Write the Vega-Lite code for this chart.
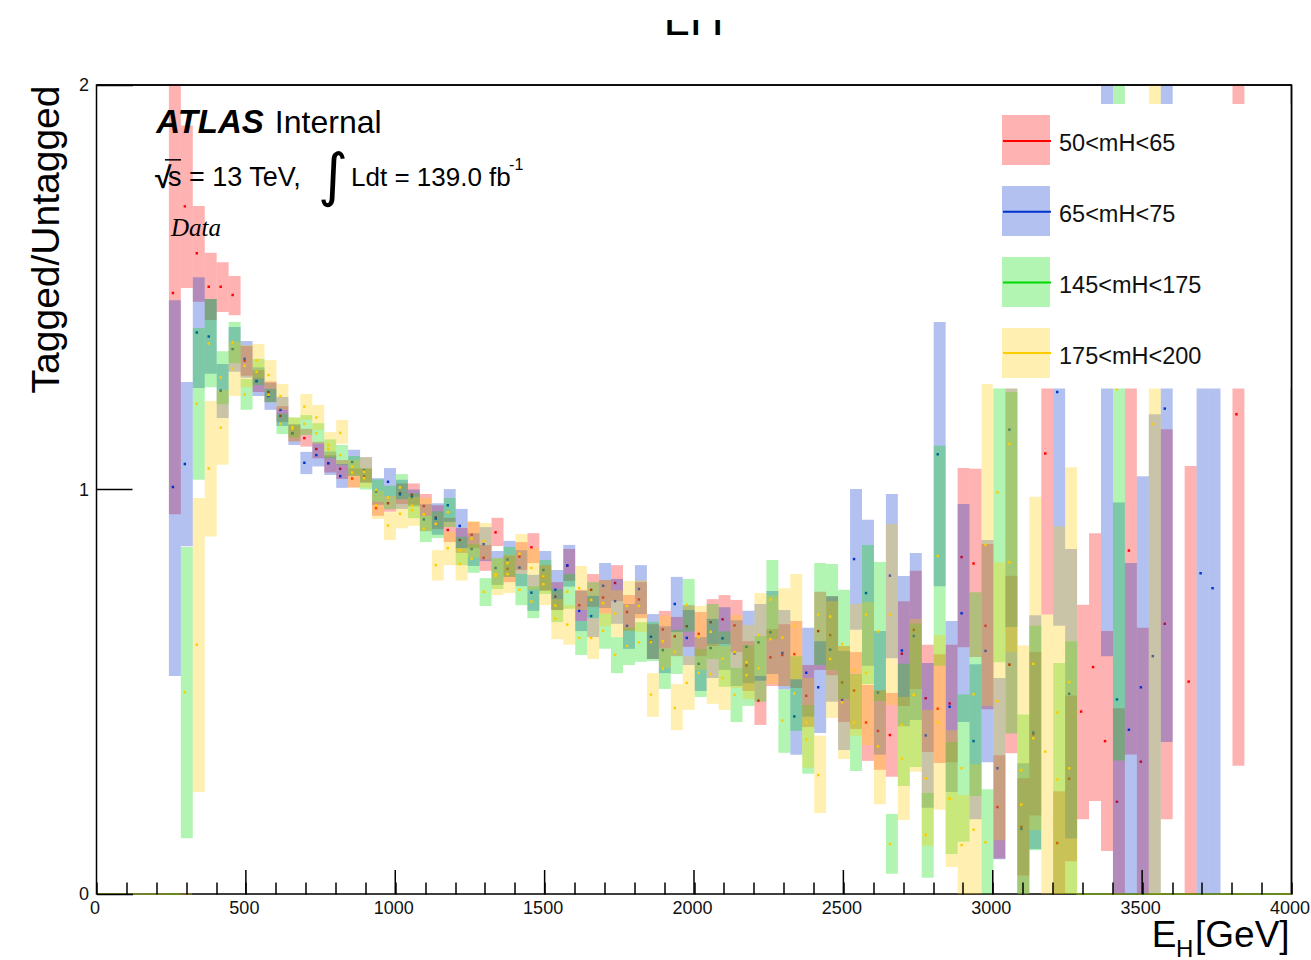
{"$schema":"https://vega.github.io/schema/vega-lite/v6.json","width":1195,"height":809,"autosize":"none","padding":{"left":96.5,"top":85,"right":19.5,"bottom":66},"background":"white","config":{"view":{"stroke":"black","strokeWidth":1.5},"font":"Liberation Sans"},
"data":{"values":[
{"s":"50<mH<65","x":240,"e":280,"lo":0.939,"m":1.486,"hi":2.03},{"s":"65<mH<75","x":240,"e":280,"lo":0.539,"m":1.006,"hi":1.468},
{"s":"50<mH<65","x":280,"e":320,"lo":1.498,"m":1.7,"hi":1.9},{"s":"65<mH<75","x":280,"e":320,"lo":0.86,"m":1.063,"hi":1.266},{"s":"145<mH<175","x":280,"e":320,"lo":0.138,"m":0.499,"hi":0.858},
{"s":"50<mH<65","x":320,"e":360,"lo":1.464,"m":1.584,"hi":1.701},{"s":"65<mH<75","x":320,"e":360,"lo":1.251,"m":1.388,"hi":1.525},{"s":"145<mH<175","x":320,"e":360,"lo":1.024,"m":1.212,"hi":1.399},{"s":"175<mH<200","x":320,"e":360,"lo":0.252,"m":0.616,"hi":0.979},
{"s":"50<mH<65","x":360,"e":400,"lo":1.419,"m":1.501,"hi":1.585},{"s":"65<mH<75","x":360,"e":400,"lo":1.286,"m":1.378,"hi":1.471},{"s":"145<mH<175","x":360,"e":400,"lo":1.253,"m":1.361,"hi":1.471},{"s":"175<mH<200","x":360,"e":400,"lo":0.884,"m":1.052,"hi":1.219},
{"s":"50<mH<65","x":400,"e":440,"lo":1.439,"m":1.501,"hi":1.562},{"s":"65<mH<75","x":400,"e":440,"lo":1.177,"m":1.244,"hi":1.31},{"s":"145<mH<175","x":400,"e":440,"lo":1.211,"m":1.277,"hi":1.342},{"s":"175<mH<200","x":400,"e":440,"lo":1.061,"m":1.153,"hi":1.246},
{"s":"50<mH<65","x":440,"e":480,"lo":1.431,"m":1.481,"hi":1.528},{"s":"65<mH<75","x":440,"e":480,"lo":1.291,"m":1.347,"hi":1.402},{"s":"145<mH<175","x":440,"e":480,"lo":1.312,"m":1.364,"hi":1.414},{"s":"175<mH<200","x":440,"e":480,"lo":1.231,"m":1.299,"hi":1.365},
{"s":"50<mH<65","x":480,"e":520,"lo":1.281,"m":1.318,"hi":1.355},{"s":"65<mH<75","x":480,"e":520,"lo":1.276,"m":1.323,"hi":1.367},{"s":"145<mH<175","x":480,"e":520,"lo":1.197,"m":1.235,"hi":1.273},{"s":"175<mH<200","x":480,"e":520,"lo":1.253,"m":1.306,"hi":1.357},
{"s":"50<mH<65","x":520,"e":560,"lo":1.241,"m":1.268,"hi":1.295},{"s":"65<mH<75","x":520,"e":560,"lo":1.231,"m":1.268,"hi":1.302},{"s":"145<mH<175","x":520,"e":560,"lo":1.258,"m":1.291,"hi":1.323},{"s":"175<mH<200","x":520,"e":560,"lo":1.275,"m":1.319,"hi":1.36},
{"s":"50<mH<65","x":560,"e":600,"lo":1.216,"m":1.241,"hi":1.267},{"s":"65<mH<75","x":560,"e":600,"lo":1.197,"m":1.231,"hi":1.264},{"s":"145<mH<175","x":560,"e":600,"lo":1.216,"m":1.234,"hi":1.249},{"s":"175<mH<200","x":560,"e":600,"lo":1.249,"m":1.283,"hi":1.32},
{"s":"50<mH<65","x":600,"e":640,"lo":1.167,"m":1.182,"hi":1.206},{"s":"65<mH<75","x":600,"e":640,"lo":1.157,"m":1.197,"hi":1.229},{"s":"145<mH<175","x":600,"e":640,"lo":1.137,"m":1.162,"hi":1.187},{"s":"175<mH<200","x":600,"e":640,"lo":1.197,"m":1.231,"hi":1.261},
{"s":"50<mH<65","x":640,"e":680,"lo":1.119,"m":1.139,"hi":1.159},{"s":"65<mH<75","x":640,"e":680,"lo":1.11,"m":1.139,"hi":1.162},{"s":"145<mH<175","x":640,"e":680,"lo":1.129,"m":1.154,"hi":1.178},{"s":"175<mH<200","x":640,"e":680,"lo":1.119,"m":1.151,"hi":1.178},
{"s":"50<mH<65","x":680,"e":720,"lo":1.106,"m":1.127,"hi":1.15},{"s":"65<mH<75","x":680,"e":720,"lo":1.038,"m":1.066,"hi":1.093},{"s":"145<mH<175","x":680,"e":720,"lo":1.135,"m":1.162,"hi":1.184},{"s":"175<mH<200","x":680,"e":720,"lo":1.173,"m":1.205,"hi":1.236},
{"s":"50<mH<65","x":720,"e":760,"lo":1.077,"m":1.1,"hi":1.118},{"s":"65<mH<75","x":720,"e":760,"lo":1.057,"m":1.085,"hi":1.114},{"s":"145<mH<175","x":720,"e":760,"lo":1.114,"m":1.139,"hi":1.164},{"s":"175<mH<200","x":720,"e":760,"lo":1.147,"m":1.178,"hi":1.209},
{"s":"50<mH<65","x":760,"e":800,"lo":1.042,"m":1.065,"hi":1.085},{"s":"65<mH<75","x":760,"e":800,"lo":1.036,"m":1.065,"hi":1.094},{"s":"145<mH<175","x":760,"e":800,"lo":1.077,"m":1.1,"hi":1.124},{"s":"175<mH<200","x":760,"e":800,"lo":1.081,"m":1.11,"hi":1.142},
{"s":"50<mH<65","x":800,"e":840,"lo":1.026,"m":1.051,"hi":1.073},{"s":"65<mH<75","x":800,"e":840,"lo":1.004,"m":1.033,"hi":1.063},{"s":"145<mH<175","x":800,"e":840,"lo":1.061,"m":1.085,"hi":1.11},{"s":"175<mH<200","x":800,"e":840,"lo":1.113,"m":1.14,"hi":1.172},
{"s":"50<mH<65","x":840,"e":880,"lo":1.005,"m":1.027,"hi":1.052},{"s":"65<mH<75","x":840,"e":880,"lo":1.034,"m":1.068,"hi":1.098},{"s":"145<mH<175","x":840,"e":880,"lo":1.034,"m":1.056,"hi":1.083},{"s":"175<mH<200","x":840,"e":880,"lo":1.005,"m":1.042,"hi":1.073},
{"s":"50<mH<65","x":880,"e":920,"lo":1.017,"m":1.033,"hi":1.052},{"s":"65<mH<75","x":880,"e":920,"lo":1.017,"m":1.048,"hi":1.08},{"s":"145<mH<175","x":880,"e":920,"lo":1.0,"m":1.028,"hi":1.052},{"s":"175<mH<200","x":880,"e":920,"lo":1.005,"m":1.044,"hi":1.08},
{"s":"50<mH<65","x":920,"e":960,"lo":0.935,"m":0.954,"hi":0.97},{"s":"65<mH<75","x":920,"e":960,"lo":0.962,"m":0.995,"hi":1.028},{"s":"145<mH<175","x":920,"e":960,"lo":0.97,"m":0.999,"hi":1.025},{"s":"175<mH<200","x":920,"e":960,"lo":0.927,"m":0.961,"hi":0.997},
{"s":"50<mH<65","x":960,"e":1000,"lo":0.945,"m":0.966,"hi":0.984},{"s":"65<mH<75","x":960,"e":1000,"lo":0.984,"m":1.019,"hi":1.053},{"s":"145<mH<175","x":960,"e":1000,"lo":0.951,"m":0.98,"hi":1.009},{"s":"175<mH<200","x":960,"e":1000,"lo":0.875,"m":0.911,"hi":0.944},
{"s":"50<mH<65","x":1000,"e":1040,"lo":0.964,"m":0.991,"hi":1.015},{"s":"65<mH<75","x":1000,"e":1040,"lo":0.952,"m":0.988,"hi":1.024},{"s":"145<mH<175","x":1000,"e":1040,"lo":0.976,"m":1.005,"hi":1.038},{"s":"175<mH<200","x":1000,"e":1040,"lo":0.904,"m":0.94,"hi":0.976},
{"s":"50<mH<65","x":1040,"e":1080,"lo":0.962,"m":0.987,"hi":1.015},{"s":"65<mH<75","x":1040,"e":1080,"lo":0.958,"m":0.981,"hi":1.0},{"s":"145<mH<175","x":1040,"e":1080,"lo":0.929,"m":0.96,"hi":0.991},{"s":"175<mH<200","x":1040,"e":1080,"lo":0.91,"m":0.949,"hi":0.982},
{"s":"50<mH<65","x":1080,"e":1120,"lo":0.935,"m":0.959,"hi":0.989},{"s":"65<mH<75","x":1080,"e":1120,"lo":0.897,"m":0.926,"hi":0.964},{"s":"145<mH<175","x":1080,"e":1120,"lo":0.87,"m":0.903,"hi":0.935},{"s":"175<mH<200","x":1080,"e":1120,"lo":0.897,"m":0.939,"hi":0.979},
{"s":"50<mH<65","x":1120,"e":1160,"lo":0.902,"m":0.931,"hi":0.961},{"s":"65<mH<75","x":1120,"e":1160,"lo":0.888,"m":0.928,"hi":0.966},{"s":"145<mH<175","x":1120,"e":1160,"lo":0.88,"m":0.915,"hi":0.946},{"s":"175<mH<200","x":1120,"e":1160,"lo":0.775,"m":0.813,"hi":0.85},
{"s":"50<mH<65","x":1160,"e":1200,"lo":0.87,"m":0.9,"hi":0.93},{"s":"65<mH<75","x":1160,"e":1200,"lo":0.92,"m":0.961,"hi":1.001},{"s":"145<mH<175","x":1160,"e":1200,"lo":0.907,"m":0.944,"hi":0.979},{"s":"175<mH<200","x":1160,"e":1200,"lo":0.813,"m":0.855,"hi":0.895},
{"s":"50<mH<65","x":1200,"e":1240,"lo":0.843,"m":0.875,"hi":0.905},{"s":"65<mH<75","x":1200,"e":1240,"lo":0.855,"m":0.91,"hi":0.952},{"s":"145<mH<175","x":1200,"e":1240,"lo":0.813,"m":0.85,"hi":0.883},{"s":"175<mH<200","x":1200,"e":1240,"lo":0.775,"m":0.816,"hi":0.855},
{"s":"50<mH<65","x":1240,"e":1280,"lo":0.855,"m":0.888,"hi":0.92},{"s":"65<mH<75","x":1240,"e":1280,"lo":0.811,"m":0.853,"hi":0.892},{"s":"145<mH<175","x":1240,"e":1280,"lo":0.794,"m":0.829,"hi":0.865},{"s":"175<mH<200","x":1240,"e":1280,"lo":0.832,"m":0.879,"hi":0.922},
{"s":"50<mH<65","x":1280,"e":1320,"lo":0.799,"m":0.831,"hi":0.863},{"s":"65<mH<75","x":1280,"e":1320,"lo":0.823,"m":0.865,"hi":0.907},{"s":"145<mH<175","x":1280,"e":1320,"lo":0.712,"m":0.747,"hi":0.781},{"s":"175<mH<200","x":1280,"e":1320,"lo":0.827,"m":0.872,"hi":0.917},
{"s":"50<mH<65","x":1320,"e":1360,"lo":0.86,"m":0.894,"hi":0.93},{"s":"65<mH<75","x":1320,"e":1360,"lo":0.764,"m":0.806,"hi":0.848},{"s":"145<mH<175","x":1320,"e":1360,"lo":0.754,"m":0.791,"hi":0.83},{"s":"175<mH<200","x":1320,"e":1360,"lo":0.739,"m":0.786,"hi":0.83},
{"s":"50<mH<65","x":1360,"e":1400,"lo":0.771,"m":0.804,"hi":0.837},{"s":"65<mH<75","x":1360,"e":1400,"lo":0.784,"m":0.827,"hi":0.873},{"s":"145<mH<175","x":1360,"e":1400,"lo":0.784,"m":0.818,"hi":0.858},{"s":"175<mH<200","x":1360,"e":1400,"lo":0.744,"m":0.791,"hi":0.838},
{"s":"50<mH<65","x":1400,"e":1440,"lo":0.801,"m":0.834,"hi":0.87},{"s":"65<mH<75","x":1400,"e":1440,"lo":0.761,"m":0.807,"hi":0.85},{"s":"145<mH<175","x":1400,"e":1440,"lo":0.714,"m":0.752,"hi":0.791},{"s":"175<mH<200","x":1400,"e":1440,"lo":0.791,"m":0.841,"hi":0.89},
{"s":"50<mH<65","x":1440,"e":1480,"lo":0.818,"m":0.857,"hi":0.892},{"s":"65<mH<75","x":1440,"e":1480,"lo":0.7,"m":0.745,"hi":0.789},{"s":"145<mH<175","x":1440,"e":1480,"lo":0.682,"m":0.723,"hi":0.761},{"s":"175<mH<200","x":1440,"e":1480,"lo":0.753,"m":0.806,"hi":0.855},
{"s":"50<mH<65","x":1480,"e":1520,"lo":0.75,"m":0.784,"hi":0.813},{"s":"65<mH<75","x":1480,"e":1520,"lo":0.75,"m":0.801,"hi":0.848},{"s":"145<mH<175","x":1480,"e":1520,"lo":0.742,"m":0.785,"hi":0.826},{"s":"175<mH<200","x":1480,"e":1520,"lo":0.714,"m":0.766,"hi":0.813},
{"s":"50<mH<65","x":1520,"e":1560,"lo":0.702,"m":0.735,"hi":0.771},{"s":"65<mH<75","x":1520,"e":1560,"lo":0.702,"m":0.752,"hi":0.801},{"s":"145<mH<175","x":1520,"e":1560,"lo":0.672,"m":0.713,"hi":0.753},{"s":"175<mH<200","x":1520,"e":1560,"lo":0.63,"m":0.681,"hi":0.729},
{"s":"50<mH<65","x":1560,"e":1600,"lo":0.774,"m":0.812,"hi":0.853},{"s":"65<mH<75","x":1560,"e":1600,"lo":0.76,"m":0.812,"hi":0.863},{"s":"145<mH<175","x":1560,"e":1600,"lo":0.705,"m":0.747,"hi":0.791},{"s":"175<mH<200","x":1560,"e":1600,"lo":0.616,"m":0.666,"hi":0.714},
{"s":"50<mH<65","x":1600,"e":1640,"lo":0.675,"m":0.714,"hi":0.751},{"s":"65<mH<75","x":1600,"e":1640,"lo":0.65,"m":0.7,"hi":0.75},{"s":"145<mH<175","x":1600,"e":1640,"lo":0.591,"m":0.633,"hi":0.675},{"s":"175<mH<200","x":1600,"e":1640,"lo":0.702,"m":0.756,"hi":0.811},
{"s":"50<mH<65","x":1640,"e":1680,"lo":0.71,"m":0.752,"hi":0.791},{"s":"65<mH<75","x":1640,"e":1680,"lo":0.635,"m":0.687,"hi":0.737},{"s":"145<mH<175","x":1640,"e":1680,"lo":0.682,"m":0.727,"hi":0.771},{"s":"175<mH<200","x":1640,"e":1680,"lo":0.581,"m":0.633,"hi":0.682},
{"s":"50<mH<65","x":1680,"e":1720,"lo":0.693,"m":0.733,"hi":0.776},{"s":"65<mH<75","x":1680,"e":1720,"lo":0.707,"m":0.762,"hi":0.818},{"s":"145<mH<175","x":1680,"e":1720,"lo":0.606,"m":0.651,"hi":0.693},{"s":"175<mH<200","x":1680,"e":1720,"lo":0.662,"m":0.719,"hi":0.776},
{"s":"50<mH<65","x":1720,"e":1760,"lo":0.724,"m":0.769,"hi":0.813},{"s":"65<mH<75","x":1720,"e":1760,"lo":0.668,"m":0.724,"hi":0.779},{"s":"145<mH<175","x":1720,"e":1760,"lo":0.546,"m":0.591,"hi":0.635},{"s":"175<mH<200","x":1720,"e":1760,"lo":0.635,"m":0.693,"hi":0.751},
{"s":"50<mH<65","x":1760,"e":1800,"lo":0.651,"m":0.697,"hi":0.739},{"s":"65<mH<75","x":1760,"e":1800,"lo":0.606,"m":0.663,"hi":0.717},{"s":"145<mH<175","x":1760,"e":1800,"lo":0.566,"m":0.613,"hi":0.659},{"s":"175<mH<200","x":1760,"e":1800,"lo":0.651,"m":0.712,"hi":0.774},
{"s":"50<mH<65","x":1800,"e":1840,"lo":0.682,"m":0.728,"hi":0.771},{"s":"65<mH<75","x":1800,"e":1840,"lo":0.692,"m":0.754,"hi":0.813},{"s":"145<mH<175","x":1800,"e":1840,"lo":0.574,"m":0.622,"hi":0.672},{"s":"175<mH<200","x":1800,"e":1840,"lo":0.648,"m":0.712,"hi":0.776},
{"s":"50<mH<65","x":1840,"e":1880,"lo":0.581,"m":0.624,"hi":0.667},{"s":"65<mH<75","x":1840,"e":1880,"lo":0.581,"m":0.636,"hi":0.692},{"s":"145<mH<175","x":1840,"e":1880,"lo":0.576,"m":0.623,"hi":0.673},{"s":"175<mH<200","x":1840,"e":1880,"lo":0.438,"m":0.493,"hi":0.546},
{"s":"50<mH<65","x":1880,"e":1920,"lo":0.607,"m":0.654,"hi":0.7},{"s":"65<mH<75","x":1880,"e":1920,"lo":0.546,"m":0.603,"hi":0.662},{"s":"145<mH<175","x":1880,"e":1920,"lo":0.507,"m":0.557,"hi":0.607},{"s":"175<mH<200","x":1880,"e":1920,"lo":0.559,"m":0.625,"hi":0.689},
{"s":"50<mH<65","x":1920,"e":1960,"lo":0.588,"m":0.637,"hi":0.685},{"s":"65<mH<75","x":1920,"e":1960,"lo":0.648,"m":0.717,"hi":0.784},{"s":"145<mH<175","x":1920,"e":1960,"lo":0.544,"m":0.599,"hi":0.653},{"s":"175<mH<200","x":1920,"e":1960,"lo":0.405,"m":0.46,"hi":0.519},
{"s":"50<mH<65","x":1960,"e":2000,"lo":0.611,"m":0.662,"hi":0.714},{"s":"65<mH<75","x":1960,"e":2000,"lo":0.566,"m":0.633,"hi":0.702},{"s":"145<mH<175","x":1960,"e":2000,"lo":0.649,"m":0.715,"hi":0.779},{"s":"175<mH<200","x":1960,"e":2000,"lo":0.455,"m":0.522,"hi":0.588},
{"s":"50<mH<65","x":2000,"e":2040,"lo":0.588,"m":0.643,"hi":0.697},{"s":"65<mH<75","x":2000,"e":2040,"lo":0.502,"m":0.569,"hi":0.635},{"s":"145<mH<175","x":2000,"e":2040,"lo":0.487,"m":0.547,"hi":0.606},{"s":"175<mH<200","x":2000,"e":2040,"lo":0.554,"m":0.635,"hi":0.712},
{"s":"50<mH<65","x":2040,"e":2080,"lo":0.613,"m":0.672,"hi":0.729},{"s":"65<mH<75","x":2040,"e":2080,"lo":0.534,"m":0.608,"hi":0.68},{"s":"145<mH<175","x":2040,"e":2080,"lo":0.581,"m":0.648,"hi":0.717},{"s":"175<mH<200","x":2040,"e":2080,"lo":0.47,"m":0.544,"hi":0.618},
{"s":"50<mH<65","x":2080,"e":2120,"lo":0.618,"m":0.679,"hi":0.739},{"s":"65<mH<75","x":2080,"e":2120,"lo":0.554,"m":0.632,"hi":0.709},{"s":"145<mH<175","x":2080,"e":2120,"lo":0.512,"m":0.582,"hi":0.649},{"s":"175<mH<200","x":2080,"e":2120,"lo":0.455,"m":0.534,"hi":0.613},
{"s":"50<mH<65","x":2120,"e":2160,"lo":0.598,"m":0.664,"hi":0.727},{"s":"65<mH<75","x":2120,"e":2160,"lo":0.514,"m":0.595,"hi":0.677},{"s":"145<mH<175","x":2120,"e":2160,"lo":0.425,"m":0.492,"hi":0.559},{"s":"175<mH<200","x":2120,"e":2160,"lo":0.509,"m":0.598,"hi":0.69},
{"s":"50<mH<65","x":2160,"e":2200,"lo":0.502,"m":0.565,"hi":0.625},{"s":"65<mH<75","x":2160,"e":2200,"lo":0.521,"m":0.611,"hi":0.7},{"s":"145<mH<175","x":2160,"e":2200,"lo":0.465,"m":0.541,"hi":0.615},{"s":"175<mH<200","x":2160,"e":2200,"lo":0.482,"m":0.573,"hi":0.665},
{"s":"50<mH<65","x":2200,"e":2240,"lo":0.418,"m":0.478,"hi":0.539},{"s":"65<mH<75","x":2200,"e":2240,"lo":0.527,"m":0.622,"hi":0.717},{"s":"145<mH<175","x":2200,"e":2240,"lo":0.475,"m":0.558,"hi":0.638},{"s":"175<mH<200","x":2200,"e":2240,"lo":0.539,"m":0.64,"hi":0.744},
{"s":"50<mH<65","x":2240,"e":2280,"lo":0.514,"m":0.585,"hi":0.655},{"s":"65<mH<75","x":2240,"e":2280,"lo":0.544,"m":0.647,"hi":0.749},{"s":"145<mH<175","x":2240,"e":2280,"lo":0.63,"m":0.728,"hi":0.826},{"s":"175<mH<200","x":2240,"e":2280,"lo":0.519,"m":0.63,"hi":0.738},
{"s":"50<mH<65","x":2280,"e":2320,"lo":0.514,"m":0.591,"hi":0.667},{"s":"65<mH<75","x":2280,"e":2320,"lo":0.506,"m":0.596,"hi":0.702},{"s":"145<mH<175","x":2280,"e":2320,"lo":0.349,"m":0.429,"hi":0.506},{"s":"175<mH<200","x":2280,"e":2320,"lo":0.514,"m":0.634,"hi":0.756},
{"s":"50<mH<65","x":2320,"e":2360,"lo":0.509,"m":0.593,"hi":0.675},{"s":"65<mH<75","x":2320,"e":2360,"lo":0.344,"m":0.439,"hi":0.531},{"s":"145<mH<175","x":2320,"e":2360,"lo":0.403,"m":0.496,"hi":0.588},{"s":"175<mH<200","x":2320,"e":2360,"lo":0.531,"m":0.662,"hi":0.791},
{"s":"50<mH<65","x":2360,"e":2400,"lo":0.413,"m":0.49,"hi":0.566},{"s":"65<mH<75","x":2360,"e":2400,"lo":0.438,"m":0.547,"hi":0.658},{"s":"145<mH<175","x":2360,"e":2400,"lo":0.297,"m":0.382,"hi":0.467},{"s":"175<mH<200","x":2360,"e":2400,"lo":0.312,"m":0.424,"hi":0.534},
{"s":"50<mH<65","x":2400,"e":2440,"lo":0.554,"m":0.65,"hi":0.747},{"s":"65<mH<75","x":2400,"e":2440,"lo":0.398,"m":0.511,"hi":0.625},{"s":"145<mH<175","x":2400,"e":2440,"lo":0.566,"m":0.691,"hi":0.818},{"s":"175<mH<200","x":2400,"e":2440,"lo":0.2,"m":0.294,"hi":0.391},
{"s":"50<mH<65","x":2440,"e":2480,"lo":0.541,"m":0.64,"hi":0.736},{"s":"65<mH<75","x":2440,"e":2480,"lo":0.475,"m":0.604,"hi":0.736},{"s":"145<mH<175","x":2440,"e":2480,"lo":0.554,"m":0.686,"hi":0.816},{"s":"175<mH<200","x":2440,"e":2480,"lo":0.435,"m":0.581,"hi":0.724},
{"s":"50<mH<65","x":2480,"e":2520,"lo":0.425,"m":0.523,"hi":0.613},{"s":"65<mH<75","x":2480,"e":2520,"lo":0.356,"m":0.48,"hi":0.601},{"s":"145<mH<175","x":2480,"e":2520,"lo":0.482,"m":0.618,"hi":0.752},{"s":"175<mH<200","x":2480,"e":2520,"lo":0.334,"m":0.474,"hi":0.613},
{"s":"50<mH<65","x":2520,"e":2560,"lo":0.408,"m":0.503,"hi":0.598},{"s":"65<mH<75","x":2520,"e":2560,"lo":0.653,"m":0.828,"hi":1.001},{"s":"145<mH<175","x":2520,"e":2560,"lo":0.304,"m":0.424,"hi":0.544},{"s":"175<mH<200","x":2520,"e":2560,"lo":0.391,"m":0.554,"hi":0.717},
{"s":"50<mH<65","x":2560,"e":2600,"lo":0.329,"m":0.424,"hi":0.517},{"s":"65<mH<75","x":2560,"e":2600,"lo":0.564,"m":0.744,"hi":0.925},{"s":"145<mH<175","x":2560,"e":2600,"lo":0.519,"m":0.691,"hi":0.863},{"s":"175<mH<200","x":2560,"e":2600,"lo":0.368,"m":0.547,"hi":0.722},
{"s":"50<mH<65","x":2600,"e":2640,"lo":0.307,"m":0.403,"hi":0.504},{"s":"65<mH<75","x":2600,"e":2640,"lo":0.344,"m":0.498,"hi":0.65},{"s":"145<mH<175","x":2600,"e":2640,"lo":0.477,"m":0.649,"hi":0.821},{"s":"175<mH<200","x":2600,"e":2640,"lo":0.222,"m":0.365,"hi":0.504},
{"s":"50<mH<65","x":2640,"e":2680,"lo":0.29,"m":0.393,"hi":0.497},{"s":"65<mH<75","x":2640,"e":2680,"lo":0.583,"m":0.787,"hi":0.989},{"s":"145<mH<175","x":2640,"e":2680,"lo":0.05,"m":0.124,"hi":0.198},{"s":"175<mH<200","x":2640,"e":2680,"lo":0.467,"m":0.691,"hi":0.915},
{"s":"50<mH<65","x":2680,"e":2720,"lo":0.465,"m":0.594,"hi":0.724},{"s":"65<mH<75","x":2680,"e":2720,"lo":0.415,"m":0.602,"hi":0.786},{"s":"145<mH<175","x":2680,"e":2720,"lo":0.267,"m":0.418,"hi":0.569},{"s":"175<mH<200","x":2680,"e":2720,"lo":0.183,"m":0.335,"hi":0.487},
{"s":"50<mH<65","x":2720,"e":2760,"lo":0.507,"m":0.653,"hi":0.799},{"s":"65<mH<75","x":2720,"e":2760,"lo":0.43,"m":0.638,"hi":0.843},{"s":"145<mH<175","x":2720,"e":2760,"lo":0.314,"m":0.492,"hi":0.669},{"s":"175<mH<200","x":2720,"e":2760,"lo":0.302,"m":0.492,"hi":0.68},
{"s":"50<mH<65","x":2760,"e":2800,"lo":0.351,"m":0.484,"hi":0.616},{"s":"65<mH<75","x":2760,"e":2800,"lo":0.213,"m":0.392,"hi":0.571},{"s":"145<mH<175","x":2760,"e":2800,"lo":0.04,"m":0.146,"hi":0.25},{"s":"175<mH<200","x":2760,"e":2800,"lo":0.119,"m":0.286,"hi":0.455},
{"s":"50<mH<65","x":2800,"e":2840,"lo":0.324,"m":0.458,"hi":0.593},{"s":"65<mH<75","x":2800,"e":2840,"lo":0.761,"m":1.087,"hi":1.414},{"s":"145<mH<175","x":2800,"e":2840,"lo":0.564,"m":0.836,"hi":1.108},{"s":"175<mH<200","x":2800,"e":2840,"lo":0.208,"m":0.424,"hi":0.64},
{"s":"50<mH<65","x":2840,"e":2880,"lo":0.326,"m":0.471,"hi":0.616},{"s":"65<mH<75","x":2840,"e":2880,"lo":0.252,"m":0.463,"hi":0.675},{"s":"145<mH<175","x":2840,"e":2880,"lo":0.099,"m":0.236,"hi":0.376},{"s":"175<mH<200","x":2840,"e":2880,"lo":0.067,"m":0.236,"hi":0.405},
{"s":"50<mH<65","x":2880,"e":2920,"lo":0.61,"m":0.833,"hi":1.053},{"s":"65<mH<75","x":2880,"e":2920,"lo":0.425,"m":0.694,"hi":0.964},{"s":"145<mH<175","x":2880,"e":2920,"lo":0.129,"m":0.311,"hi":0.493},{"s":"175<mH<200","x":2880,"e":2920,"lo":0.0,"m":0.121,"hi":0.245},
{"s":"50<mH<65","x":2920,"e":2960,"lo":0.586,"m":0.817,"hi":1.051},{"s":"65<mH<75","x":2920,"e":2960,"lo":0.185,"m":0.378,"hi":0.568},{"s":"145<mH<175","x":2920,"e":2960,"lo":0.242,"m":0.494,"hi":0.746},{"s":"175<mH<200","x":2920,"e":2960,"lo":0.0,"m":0.159,"hi":0.321},
{"s":"50<mH<65","x":2960,"e":3000,"lo":0.457,"m":0.663,"hi":0.865},{"s":"65<mH<75","x":2960,"e":3000,"lo":0.326,"m":0.601,"hi":0.875},{"s":"145<mH<175","x":2960,"e":3000,"lo":0.0,"m":0.128,"hi":0.259},{"s":"175<mH<200","x":2960,"e":3000,"lo":0.465,"m":0.863,"hi":1.261},
{"s":"50<mH<65","x":3000,"e":3040,"lo":0.088,"m":0.215,"hi":0.343},{"s":"65<mH<75","x":3000,"e":3040,"lo":0.086,"m":0.311,"hi":0.534},{"s":"145<mH<175","x":3000,"e":3040,"lo":0.573,"m":0.993,"hi":1.413},{"s":"175<mH<200","x":3000,"e":3040,"lo":0.133,"m":0.477,"hi":0.82},
{"s":"50<mH<65","x":3040,"e":3080,"lo":0.348,"m":0.567,"hi":0.787},{"s":"65<mH<75","x":3040,"e":3080,"lo":0.66,"m":1.148,"hi":1.636},{"s":"145<mH<175","x":3040,"e":3080,"lo":0.397,"m":0.82,"hi":1.241},{"s":"175<mH<200","x":3040,"e":3080,"lo":0.598,"m":1.113,"hi":1.629},
{"s":"50<mH<65","x":3080,"e":3120,"lo":0.046,"m":0.166,"hi":0.286},{"s":"65<mH<75","x":3080,"e":3120,"lo":0.0,"m":0.161,"hi":0.323},{"s":"145<mH<175","x":3080,"e":3120,"lo":0.0,"m":0.221,"hi":0.444},{"s":"175<mH<200","x":3080,"e":3120,"lo":0.0,"m":0.306,"hi":0.615},
{"s":"50<mH<65","x":3120,"e":3160,"lo":0.194,"m":0.395,"hi":0.598},{"s":"65<mH<75","x":3120,"e":3160,"lo":0.111,"m":0.399,"hi":0.689},{"s":"145<mH<175","x":3120,"e":3160,"lo":0.108,"m":0.385,"hi":0.663},{"s":"175<mH<200","x":3120,"e":3160,"lo":0.158,"m":0.569,"hi":0.982},
{"s":"50<mH<65","x":3160,"e":3200,"lo":0.691,"m":1.089,"hi":1.487},{"s":"175<mH<200","x":3160,"e":3200,"lo":0.0,"m":0.352,"hi":0.691},
{"s":"50<mH<65","x":3200,"e":3240,"lo":0.0,"m":0.126,"hi":0.254},{"s":"65<mH<75","x":3200,"e":3240,"lo":0.663,"m":1.241,"hi":1.817},{"s":"145<mH<175","x":3200,"e":3240,"lo":0.0,"m":0.283,"hi":0.571},{"s":"175<mH<200","x":3200,"e":3240,"lo":0.0,"m":0.449,"hi":0.909},
{"s":"50<mH<65","x":3240,"e":3280,"lo":0.081,"m":0.285,"hi":0.491},{"s":"65<mH<75","x":3240,"e":3280,"lo":0.137,"m":0.495,"hi":0.853},{"s":"145<mH<175","x":3240,"e":3280,"lo":0.0,"m":0.311,"hi":0.625},{"s":"175<mH<200","x":3240,"e":3280,"lo":0.0,"m":0.524,"hi":1.055},
{"s":"50<mH<65","x":3280,"e":3320,"lo":0.185,"m":0.451,"hi":0.715},
{"s":"50<mH<65","x":3320,"e":3360,"lo":0.23,"m":0.561,"hi":0.892},
{"s":"50<mH<65","x":3360,"e":3400,"lo":0.106,"m":0.378,"hi":0.65},{"s":"65<mH<75","x":3360,"e":3400,"lo":0.588,"m":1.35,"hi":2.1},
{"s":"50<mH<65","x":3400,"e":3440,"lo":0.0,"m":0.228,"hi":0.459},{"s":"65<mH<75","x":3400,"e":3440,"lo":0.0,"m":0.481,"hi":0.968},{"s":"145<mH<175","x":3400,"e":3440,"lo":0.33,"m":1.248,"hi":2.15},
{"s":"50<mH<65","x":3440,"e":3480,"lo":0.345,"m":0.849,"hi":1.352},{"s":"65<mH<75","x":3440,"e":3480,"lo":0.0,"m":0.406,"hi":0.818},
{"s":"50<mH<65","x":3480,"e":3520,"lo":0.0,"m":0.327,"hi":0.658},{"s":"65<mH<75","x":3480,"e":3520,"lo":0.0,"m":0.511,"hi":1.033},
{"s":"65<mH<75","x":3520,"e":3560,"lo":0.0,"m":0.588,"hi":1.186},{"s":"175<mH<200","x":3520,"e":3560,"lo":0.0,"m":1.162,"hi":2.3},
{"s":"50<mH<65","x":3560,"e":3600,"lo":0.185,"m":0.668,"hi":1.149},{"s":"65<mH<75","x":3560,"e":3600,"lo":0.376,"m":1.2,"hi":2.05},
{"s":"50<mH<65","x":3640,"e":3680,"lo":0.0,"m":0.525,"hi":1.058},
{"s":"65<mH<75","x":3680,"e":3720,"lo":0.0,"m":0.793,"hi":1.585},
{"s":"65<mH<75","x":3720,"e":3760,"lo":0.0,"m":0.756,"hi":1.51},
{"s":"50<mH<65","x":3800,"e":3840,"lo":0.317,"m":1.186,"hi":2.04}
]},
"encoding":{"x":{"field":"x","type":"quantitative","scale":{"domain":[0,4000],"nice":false},"axis":{"title":null,"zindex":1,"domain":false,"grid":false,"values":[0,100,200,300,400,500,600,700,800,900,1000,1100,1200,1300,1400,1500,1600,1700,1800,1900,2000,2100,2200,2300,2400,2500,2600,2700,2800,2900,3000,3100,3200,3300,3400,3500,3600,3700,3800,3900,4000],"labelExpr":"datum.value % 500 === 0 ? datum.label : ''","format":"d","labelOverlap":false,"labelFontSize":18,"labelColor":"#111","labelFont":"Liberation Sans","labelPadding":17,"labelOffset":-2,"labelFlush":false,"tickColor":"black","tickWidth":1.5,"tickSize":-12}}},
"layer":[
{"transform":[{"filter":"datum.s === '50<mH<65'"}],"mark":{"type":"rect","clip":true,"opacity":0.3,"xOffset":0.7,"x2Offset":0.7},"encoding":{"x2":{"field":"e"},"y":{"field":"lo","type":"quantitative","scale":{"domain":[0,2],"nice":false},"axis":{"title":"Tagged/Untagged","titleFontSize":39,"titleFont":"Liberation Sans","titleFontWeight":"normal","titleColor":"black","titleAnchor":"end","titlePadding":12,"zindex":1,"values":[0,2],"labelOverlap":false,"format":"d","grid":false,"domain":false,"tickColor":"black","tickWidth":1.5,"tickSize":-36,"labelFontSize":18,"labelColor":"#111","labelFont":"Liberation Sans","labelPadding":44}},"y2":{"field":"hi"},"fill":{"field":"s","type":"nominal","scale":{"domain":["50<mH<65","65<mH<75","145<mH<175","175<mH<200"],"range":["#ff0000","#0033cc","#00d900","#ffcc00"]},"legend":{"orient":"none","legendX":905.5,"legendY":35,"title":null,"symbolType":"M-1,-1.207H1V0.873H-1Z","symbolSize":2304,"symbolOpacity":0.3,"symbolStrokeWidth":0,"rowPadding":21,"labelFontSize":23.5,"labelFont":"Liberation Sans","labelColor":"#111","labelOffset":9,"labelLimit":300,"padding":0}}}},
{"transform":[{"filter":"datum.s === '50<mH<65'"}],"mark":{"type":"point","shape":"square","filled":true,"size":6,"opacity":1,"color":"#ff0000","clip":true,"xOffset":4.7},"encoding":{"y":{"field":"m","type":"quantitative"}}},
{"transform":[{"filter":"datum.s === '65<mH<75'"}],"mark":{"type":"rect","clip":true,"opacity":0.3,"xOffset":0.7,"x2Offset":0.7},"encoding":{"x2":{"field":"e"},"y":{"field":"lo","type":"quantitative"},"y2":{"field":"hi"},"fill":{"field":"s","type":"nominal"}}},
{"transform":[{"filter":"datum.s === '65<mH<75'"}],"mark":{"type":"point","shape":"square","filled":true,"size":6,"opacity":1,"color":"#0033cc","clip":true,"xOffset":4.7},"encoding":{"y":{"field":"m","type":"quantitative"}}},
{"transform":[{"filter":"datum.s === '145<mH<175'"}],"mark":{"type":"rect","clip":true,"opacity":0.3,"xOffset":0.7,"x2Offset":0.7},"encoding":{"x2":{"field":"e"},"y":{"field":"lo","type":"quantitative"},"y2":{"field":"hi"},"fill":{"field":"s","type":"nominal"}}},
{"transform":[{"filter":"datum.s === '145<mH<175'"}],"mark":{"type":"point","shape":"square","filled":true,"size":6,"opacity":1,"color":"#ffcc00","clip":true,"xOffset":4.7},"encoding":{"y":{"field":"m","type":"quantitative"}}},
{"transform":[{"filter":"datum.s === '175<mH<200'"}],"mark":{"type":"rect","clip":true,"opacity":0.3,"xOffset":0.7,"x2Offset":0.7},"encoding":{"x2":{"field":"e"},"y":{"field":"lo","type":"quantitative"},"y2":{"field":"hi"},"fill":{"field":"s","type":"nominal"}}},
{"transform":[{"filter":"datum.s === '175<mH<200'"}],"mark":{"type":"point","shape":"square","filled":true,"size":6,"opacity":1,"color":"#ffcc00","clip":true,"xOffset":4.7},"encoding":{"y":{"field":"m","type":"quantitative"}}},
{"data":{"values":[{"x":3000,"e":3997,"lo":1.25,"hi":1.953}]},"mark":{"type":"rect","fill":"white","opacity":1},"encoding":{"x2":{"field":"e"},"y":{"field":"lo","type":"quantitative"},"y2":{"field":"hi"}}},
{"data":{"values":[{"s":"50-65 line","x":0,"e":240,"lo":0},{"s":"65-75 line","x":0,"e":240,"lo":0},{"s":"145-175 line","x":0,"e":280,"lo":0},{"s":"175-200 line","x":0,"e":320,"lo":0},{"s":"145-175 line","x":3280,"e":4000,"lo":0},{"s":"175-200 line","x":3280,"e":4000,"lo":0}]},"mark":{"type":"rule","opacity":0.4,"strokeWidth":1.5},"encoding":{"x2":{"field":"e"},"y":{"field":"lo","type":"quantitative"},"stroke":{"field":"s","type":"nominal","scale":{"domain":["50-65 line","65-75 line","145-175 line","175-200 line"],"range":["#ff0000","#0033cc","#00d900","#ffcc00"]},"legend":{"orient":"none","legendX":905.5,"legendY":35,"title":null,"symbolType":"M-1,-0.167H1","symbolSize":2304,"symbolOpacity":1,"symbolStrokeWidth":2,"rowPadding":33.7,"labelFontSize":23.5,"labelExpr":"''","labelOffset":9,"labelLimit":300,"padding":0}}}},
{"data":{"values":[{"x":0,"e":4000,"lo":2}]},"mark":{"type":"rule","color":"black","strokeWidth":1.5},"encoding":{"x2":{"field":"e"},"y":{"field":"lo","type":"quantitative"}}},
{"data":{"values":[{"x":4000,"lo":0,"hi":2}]},"mark":{"type":"rule","color":"black","strokeWidth":1.5},"encoding":{"y":{"field":"lo","type":"quantitative"},"y2":{"field":"hi"}}},
{"data":{"values":[{"x":500,"lo":0,"hi":0.0593},{"x":1000,"lo":0,"hi":0.0593},{"x":1500,"lo":0,"hi":0.0593},{"x":2000,"lo":0,"hi":0.0593},{"x":2500,"lo":0,"hi":0.0593},{"x":3000,"lo":0,"hi":0.0593},{"x":3500,"lo":0,"hi":0.0593}]},"mark":{"type":"rule","color":"black","strokeWidth":1.5},"encoding":{"y":{"field":"lo","type":"quantitative"},"y2":{"field":"hi"}}},
{"data":{"values":[{"x":0,"e":120.5,"lo":1}]},"mark":{"type":"rule","color":"black","strokeWidth":1.5},"encoding":{"x2":{"field":"e"},"y":{"field":"lo","type":"quantitative"}}},
{"data":{"values":[{"t":"1","x":0,"lo":1}]},"mark":{"type":"text","align":"right","baseline":"middle","dx":-7.5,"dy":1,"font":"Liberation Sans","fontSize":18,"color":"#111"},"encoding":{"y":{"field":"lo","type":"quantitative"},"text":{"field":"t"}}},
{"data":{"values":[{"x":229,"e":283,"lo":1.815}]},"mark":{"type":"rule","color":"black","strokeWidth":1.5},"encoding":{"x2":{"field":"e"},"y":{"field":"lo","type":"quantitative"}}},
{"data":{"values":[{"t":"ATLAS","x":200,"lo":1.881}]},"mark":{"type":"text","align":"left","baseline":"alphabetic","font":"Liberation Sans","fontSize":33,"fontStyle":"italic","fontWeight":"bold","color":"black"},"encoding":{"y":{"field":"lo","type":"quantitative"},"text":{"field":"t"}}},
{"data":{"values":[{"t":"Internal","x":597,"lo":1.881}]},"mark":{"type":"text","align":"left","baseline":"alphabetic","font":"Liberation Sans","fontSize":32,"color":"black"},"encoding":{"y":{"field":"lo","type":"quantitative"},"text":{"field":"t"}}},
{"data":{"values":[{"t":"√","x":196,"lo":1.745}]},"mark":{"type":"text","align":"left","baseline":"alphabetic","font":"Liberation Sans","fontSize":30,"fontWeight":"bold","color":"black"},"encoding":{"y":{"field":"lo","type":"quantitative"},"text":{"field":"t"}}},
{"data":{"values":[{"t":"s = 13 TeV,","x":239,"lo":1.75}]},"mark":{"type":"text","align":"left","baseline":"alphabetic","font":"Liberation Sans","fontSize":27,"color":"black"},"encoding":{"y":{"field":"lo","type":"quantitative"},"text":{"field":"t"}}},
{"data":{"values":[{"t":"Ldt = 139.0 fb","x":852,"lo":1.75}]},"mark":{"type":"text","align":"left","baseline":"alphabetic","font":"Liberation Sans","fontSize":26,"color":"black"},"encoding":{"y":{"field":"lo","type":"quantitative"},"text":{"field":"t"}}},
{"data":{"values":[{"t":"∫","x":741,"lo":1.727}]},"mark":{"type":"text","align":"left","baseline":"alphabetic","font":"DejaVu Sans","fontSize":58,"color":"black"},"encoding":{"y":{"field":"lo","type":"quantitative"},"text":{"field":"t"}}},
{"data":{"values":[{"t":"-1","x":1381,"lo":1.79}]},"mark":{"type":"text","align":"left","baseline":"alphabetic","font":"Liberation Sans","fontSize":16,"color":"black"},"encoding":{"y":{"field":"lo","type":"quantitative"},"text":{"field":"t"}}},
{"data":{"values":[{"t":"Data","x":249,"lo":1.627}]},"mark":{"type":"text","align":"left","baseline":"alphabetic","font":"Liberation Serif","fontSize":25,"fontStyle":"italic","color":"black"},"encoding":{"y":{"field":"lo","type":"quantitative"},"text":{"field":"t"}}},
{"data":{"values":[{"t":"LH","x":1898,"lo":2.1236}]},"mark":{"type":"text","align":"left","baseline":"alphabetic","font":"Liberation Sans","fontSize":47,"color":"black"},"encoding":{"y":{"field":"lo","type":"quantitative"},"text":{"field":"t"}}},
{"data":{"values":[{"x":1800,"e":2300,"lo":2.1607,"hi":2.25}]},"mark":{"type":"rect","fill":"white","opacity":1,"clip":false},"encoding":{"x2":{"field":"e"},"y":{"field":"lo","type":"quantitative"},"y2":{"field":"hi"}}},
{"data":{"values":[{"t":"E","x":3532,"lo":-0.131},{"t":"[GeV]","x":3677,"lo":-0.131}]},"mark":{"type":"text","align":"left","baseline":"alphabetic","font":"Liberation Sans","fontSize":37,"color":"black"},"encoding":{"y":{"field":"lo","type":"quantitative"},"text":{"field":"t"}}},
{"data":{"values":[{"t":"H","x":3613,"lo":-0.156}]},"mark":{"type":"text","align":"left","baseline":"alphabetic","font":"Liberation Sans","fontSize":24,"color":"black"},"encoding":{"y":{"field":"lo","type":"quantitative"},"text":{"field":"t"}}}
]}
